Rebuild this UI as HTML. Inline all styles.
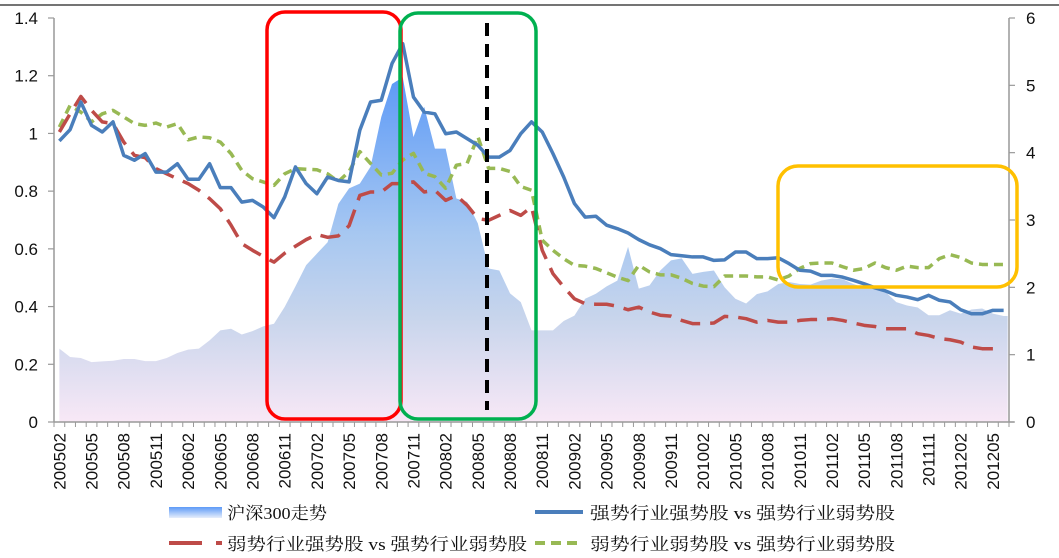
<!DOCTYPE html>
<html><head><meta charset="utf-8"><style>
html,body{margin:0;padding:0;background:#fff;}
svg{display:block;}
</style></head><body>
<svg id="chart" width="1059" height="558" viewBox="0 0 1059 558" xmlns="http://www.w3.org/2000/svg" font-family="'Liberation Sans', 'Noto Sans CJK SC', sans-serif">
<defs>
<linearGradient id="areaGrad" gradientUnits="userSpaceOnUse" x1="0" y1="77" x2="0" y2="422">
<stop offset="0" stop-color="#5D9AF7"/>
<stop offset="0.45" stop-color="#A6C7F1"/>
<stop offset="0.7" stop-color="#C8D5EC"/>
<stop offset="1" stop-color="#F8E8F6"/>
</linearGradient>
<linearGradient id="legGrad" x1="0" y1="0" x2="0" y2="1">
<stop offset="0" stop-color="#5D9AF7"/><stop offset="1" stop-color="#E6EEFB"/>
</linearGradient>
</defs>
<line x1="0" y1="5" x2="1059" y2="5" stroke="#222" stroke-width="1.2"/>
<g id="plot"></g>
</svg>
<script>
const months = [];
for (let y = 2005, m = 2; months.length < 89; ) { months.push(String(y) + String(m).padStart(2, '0')); m++; if (m > 12) { m = 1; y++; } }
const hs300 = [1.09,0.965,0.95,0.89,0.9,0.91,0.935,0.935,0.905,0.905,0.95,1.025,1.075,1.09,1.213,1.36,1.385,1.3,1.35,1.42,1.46,1.71,2.015,2.33,2.5,2.67,3.24,3.47,3.54,3.79,4.53,5.02,5.12,4.23,4.68,4.06,4.06,3.32,3.27,2.95,2.28,2.25,1.91,1.78,1.36,1.36,1.36,1.5,1.58,1.83,1.905,2.015,2.1,2.6,1.98,2.03,2.25,2.4,2.43,2.2,2.23,2.25,2.0,1.83,1.76,1.9,1.94,2.05,2.08,2.05,2.04,2.1,2.13,2.12,2.05,1.995,1.98,1.93,1.78,1.73,1.7,1.585,1.585,1.66,1.61,1.67,1.685,1.61,1.575];
const strongVsWeak = [0.974,1.013,1.109,1.028,1.005,1.04,0.924,0.907,0.93,0.866,0.866,0.895,0.841,0.841,0.895,0.812,0.812,0.762,0.768,0.745,0.708,0.78,0.884,0.826,0.791,0.849,0.837,0.832,1.011,1.109,1.115,1.242,1.311,1.126,1.074,1.068,0.999,1.005,0.982,0.959,0.918,0.918,0.941,0.999,1.04,1.005,0.93,0.849,0.757,0.71,0.713,0.682,0.67,0.655,0.632,0.614,0.601,0.58,0.576,0.572,0.572,0.56,0.562,0.589,0.589,0.566,0.566,0.569,0.549,0.526,0.523,0.508,0.508,0.502,0.491,0.479,0.465,0.454,0.439,0.433,0.424,0.439,0.422,0.416,0.389,0.375,0.375,0.387,0.387];
const weakIndStrong = [1.005,1.068,1.128,1.08,1.04,1.034,0.97,0.924,0.916,0.878,0.86,0.843,0.826,0.803,0.774,0.739,0.682,0.618,0.595,0.574,0.554,0.585,0.609,0.632,0.65,0.64,0.645,0.68,0.785,0.797,0.797,0.826,0.826,0.832,0.797,0.803,0.768,0.785,0.751,0.705,0.699,0.716,0.733,0.716,0.745,0.595,0.514,0.468,0.427,0.41,0.408,0.408,0.401,0.389,0.398,0.381,0.37,0.367,0.352,0.341,0.341,0.343,0.366,0.364,0.358,0.346,0.352,0.346,0.346,0.352,0.355,0.355,0.358,0.352,0.343,0.335,0.331,0.323,0.323,0.323,0.306,0.3,0.289,0.285,0.277,0.26,0.254,0.254,null];
const weakIndWeak = [1.022,1.097,1.074,1.04,1.068,1.08,1.057,1.034,1.028,1.036,1.022,1.034,0.978,0.988,0.985,0.97,0.93,0.872,0.843,0.832,0.82,0.86,0.878,0.876,0.874,0.86,0.833,0.868,0.937,0.896,0.856,0.862,0.908,0.931,0.862,0.85,0.81,0.89,0.896,0.989,0.879,0.879,0.868,0.816,0.803,0.63,0.595,0.566,0.543,0.54,0.532,0.517,0.502,0.49,0.543,0.52,0.51,0.51,0.498,0.48,0.471,0.469,0.506,0.506,0.506,0.503,0.503,0.492,0.506,0.532,0.549,0.551,0.551,0.538,0.526,0.532,0.551,0.535,0.526,0.54,0.535,0.535,0.566,0.58,0.57,0.551,0.546,0.546,0.546];
const leftTicks = [0,0.2,0.4,0.6,0.8,1,1.2,1.4];
const rightTicks = [0,1,2,3,4,5,6];

const NS = 'http://www.w3.org/2000/svg';
const plot = document.getElementById('plot');
const X0 = 54, X1 = 1009, Y0 = 422, Y1 = 18;
const bw = (X1 - X0) / months.length;
const xs = i => X0 + (i + 0.5) * bw;
const yL = v => Y0 - (v / 1.4) * (Y0 - Y1);
const yR = v => Y0 - (v / 6) * (Y0 - Y1);
function mk(tag, attrs, parent) { const e = document.createElementNS(NS, tag); for (const k in attrs) e.setAttribute(k, attrs[k]); (parent || plot).appendChild(e); return e; }

// area
let d = 'M' + xs(0) + ',' + Y0;
hs300.forEach((v, i) => { d += ' L' + xs(i) + ',' + yR(v); });
d += ' L' + (xs(hs300.length - 1) + 4) + ',' + yR(hs300[hs300.length - 1]) + ' L' + (xs(hs300.length - 1) + 4) + ',' + Y0 + ' Z';
const area = mk('path', { d: d, fill: 'url(#areaGrad)' });



// axes
const la = mk('line', { x1: X0, y1: Y1, x2: X0, y2: Y0, stroke: '#999', 'stroke-width': 1.5 });


const ra = mk('line', { x1: X1, y1: Y1, x2: X1, y2: Y0, stroke: '#999', 'stroke-width': 1.5 });


const xa = mk('line', { x1: X0, y1: Y0, x2: X1 + 5, y2: Y0, stroke: '#999', 'stroke-width': 1.5 });



leftTicks.forEach(t => {
  mk('line', { x1: X0 - 6, y1: yL(t), x2: X0, y2: yL(t), stroke: '#999', 'stroke-width': 1.2 });
  const tx = mk('text', { x: 38, y: yL(t) + 6, 'text-anchor': 'end', 'font-size': 17, fill: '#111' });
  tx.textContent = String(t);
  
  
});
rightTicks.forEach(t => {
  mk('line', { x1: X1, y1: yR(t), x2: X1 + 6, y2: yR(t), stroke: '#999', 'stroke-width': 1.2 });
  const tx = mk('text', { x: 1026, y: yR(t) + 6, 'text-anchor': 'start', 'font-size': 17, fill: '#111' });
  tx.textContent = String(t);
  
  
});
for (let i = 0; i <= months.length; i++) {
  const x = X0 + i * bw;
  mk('line', { x1: x, y1: Y0, x2: x, y2: Y0 + 5, stroke: '#999', 'stroke-width': 1 });
}
months.forEach((m, i) => {
  if (i % 3 !== 0) return;
  const x = xs(i) + 6, y = 433;
  const tx = mk('text', { x: x, y: y, 'text-anchor': 'end', 'font-size': 17, fill: '#111', transform: 'rotate(-90 ' + x + ' ' + y + ')' });
  tx.textContent = m;
  
  
});

function line(data, color, dash, name) {
  let p = '', pen = false;
  data.forEach((v, i) => { if (v == null) { pen = false; return; } p += (pen ? ' L' : ' M') + xs(i) + ',' + yL(v); pen = true; });
  const attrs = { d: p, fill: 'none', stroke: color, 'stroke-width': 3.5, 'stroke-linejoin': 'round' };
  if (dash) attrs['stroke-dasharray'] = dash;
  const e = mk('path', attrs);
  
  
}
line(weakIndWeak, '#98B954', '9,6', 'weak-weak-line');
line(weakIndStrong, '#BE4B48', '20,10', 'weak-strong-line');
line(strongVsWeak, '#4A7EBB', null, 'strong-strong-line');

// annotation boxes
const rb = mk('rect', { x: 267, y: 12, width: 134, height: 407, rx: 18, fill: 'none', stroke: '#FF0000', 'stroke-width': 3.5 });


const gb = mk('rect', { x: 400, y: 13, width: 136, height: 406, rx: 18, fill: 'none', stroke: '#00B050', 'stroke-width': 3.5 });


const yb = mk('rect', { x: 778, y: 166, width: 239, height: 121, rx: 20, fill: 'none', stroke: '#FFC000', 'stroke-width': 3.5 });


const vl = mk('line', { x1: 487, y1: 23, x2: 487, y2: 410, stroke: '#000', 'stroke-width': 4, 'stroke-dasharray': '13,8' });



// legend
const lg = mk('g', {});


const s1 = mk('rect', { x: 169, y: 507, width: 53, height: 11, fill: 'url(#legGrad)' }, lg);


const s2 = mk('line', { x1: 535, y1: 512, x2: 583, y2: 512, stroke: '#4A7EBB', 'stroke-width': 4 }, lg);


const s3 = mk('line', { x1: 169, y1: 543, x2: 222, y2: 543, stroke: '#BE4B48', 'stroke-width': 4, 'stroke-dasharray': '33,14' }, lg);


const s4 = mk('line', { x1: 535, y1: 543, x2: 583, y2: 543, stroke: '#98B954', 'stroke-width': 4, 'stroke-dasharray': '10,6' }, lg);


const legItems = [
  ['沪深300走势', 227, 519, 100, 'legend-label-hs300'],
  ['强势行业强势股 vs 强势行业弱势股', 590, 519, 305, 'legend-label-strong-strong'],
  ['弱势行业强势股 vs 强势行业弱势股', 227, 550, 300, 'legend-label-weak-strong'],
  ['弱势行业弱势股 vs 强势行业弱势股', 590, 550, 305, 'legend-label-weak-weak']
];
legItems.forEach(it => {
  const t = mk('text', { x: it[1], y: it[2], 'font-size': 17, fill: '#111', 'font-family': "'Liberation Serif','Noto Serif CJK SC',serif", textLength: it[3], lengthAdjust: 'spacingAndGlyphs' }, lg);
  t.textContent = it[0];
  
  
});
</script>
</body></html>
